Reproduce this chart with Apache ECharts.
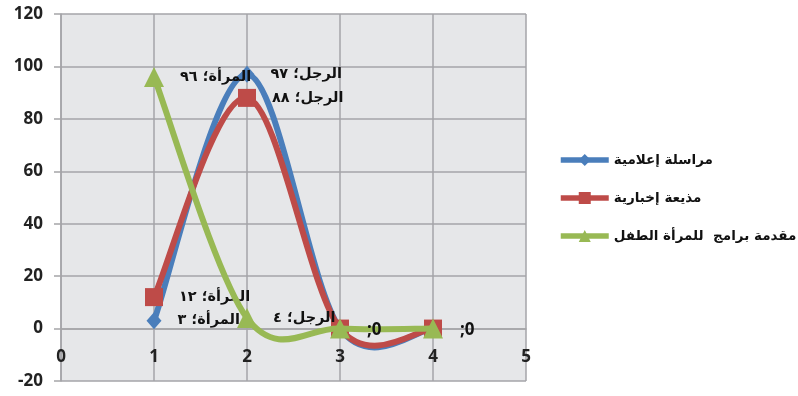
<!DOCTYPE html>
<html>
<head>
<meta charset="utf-8">
<script src="https://cdn.jsdelivr.net/npm/echarts@6/dist/echarts.min.js"></script>
<style>
  html, body { margin: 0; padding: 0; background: #ffffff; }
  #chart { width: 798px; height: 396px; }
</style>
</head>
<body>
<div id="chart"></div>
<script>
// Point positions along the x axis and the group name shown in each data label
const xValues = [1, 2, 3, 4];
const pointNames = ['المرأة', 'الرجل', '', ''];

// Series names and their values
const seriesNames = ['مراسلة إعلامية', 'مذيعة إخبارية', 'مقدمة برامج  للمرأة الطفل'];
const reporterValues = [3, 97, 0, 0];
const announcerValues = [12, 88, 0, 0];
const presenterValues = [96, 4, 0, 0];

// Axis ranges
const yTicks = [-20, 0, 20, 40, 60, 80, 100, 120];
const xTicks = [0, 1, 2, 3, 4, 5];

const colors = ['#4A7EBB', '#BE4B48', '#98B954'];
const symbols = ['diamond', 'rect', 'triangle'];
const symbolSizes = [[15, 17], 18, 20];
const LINE_WIDTH = 6;

const arabicDigits = '٠١٢٣٤٥٦٧٨٩';
function toArabicDigits(n) {
  return String(n).replace(/[0-9]/g, d => arabicDigits[+d]);
}

// Which points carry a label, per series (the shared zero points are labelled once)
const labelMask = [
  [true, true, false, false],
  [true, true, false, false],
  [true, true, true, true]
];

const allValues = [reporterValues, announcerValues, presenterValues];

function buildData(values, si) {
  return xValues.map((x, i) => {
    const label = { show: labelMask[si][i] };
    if (!pointNames[i]) {
      // unnamed points get a plain Latin label
      label.fontFamily = 'Open Sans';
      label.fontSize = 17;
      label.distance = 17;
      label.offset = [0, 2];
    }
    return { value: [x, values[i]], name: pointNames[i], label: label };
  });
}

// Smoothed connector: each item draws the cubic segment to the next point,
// with control points taken from the neighbouring points (1/6 of the chord).
function makeCurveRenderer(color) {
  return function (params, api) {
    const i = params.dataIndexInside;
    const n = params.dataInsideLength;
    if (i >= n - 1) return null;
    const pt = k => {
      const kk = Math.max(0, Math.min(n - 1, k));
      return api.coord([api.value(0, kk), api.value(1, kk)]);
    };
    const p0 = pt(i - 1), p1 = pt(i), p2 = pt(i + 1), p3 = pt(i + 2);
    return {
      type: 'bezierCurve',
      shape: {
        x1: p1[0], y1: p1[1],
        x2: p2[0], y2: p2[1],
        cpx1: p1[0] + (p2[0] - p0[0]) / 6,
        cpy1: p1[1] + (p2[1] - p0[1]) / 6,
        cpx2: p2[0] - (p3[0] - p1[0]) / 6,
        cpy2: p2[1] - (p3[1] - p1[1]) / 6
      },
      style: {
        fill: null,
        stroke: color,
        lineWidth: LINE_WIDTH,
        lineCap: 'round',
        lineJoin: 'round'
      }
    };
  };
}

const LRM = '\u200E';

const chart = echarts.init(document.getElementById('chart'), null, { renderer: 'canvas' });

const series = [];
allValues.forEach((vals, si) => {
  series.push({
    type: 'custom',
    name: 'curve-' + si,
    data: xValues.map((x, i) => [x, vals[i]]),
    renderItem: makeCurveRenderer(colors[si]),
    z: 2 + si * 2,
    silent: true,
    clip: false
  });
  series.push({
    name: seriesNames[si],
    type: 'line',
    data: buildData(vals, si),
    symbol: symbols[si],
    symbolSize: symbolSizes[si],
    showAllSymbol: true,
    z: 3 + si * 2,
    lineStyle: { color: colors[si], width: LINE_WIDTH, opacity: 0 },
    itemStyle: { color: colors[si] },
    label: {
      position: 'right',
      distance: 16,
      color: '#111',
      fontFamily: 'DejaVu Sans',
      fontWeight: 'bold',
      fontSize: 14.5,
      formatter: p => p.data.name
        ? p.data.name + '؛ ' + toArabicDigits(p.value[1])
        : LRM + ';' + LRM + p.value[1]
    },
    emphasis: { disabled: true }
  });
});

chart.setOption({
  animation: false,
  backgroundColor: '#ffffff',
  grid: {
    left: 61, right: 272, top: 14, bottom: 15,
    show: true, backgroundColor: '#e6e7e9', borderWidth: 0
  },
  legend: {
    orient: 'vertical',
    left: 553,
    top: 148,
    itemWidth: 48,
    itemHeight: 15,
    itemGap: 24,
    data: seriesNames,
    lineStyle: { width: 5.5, opacity: 1 },
    textStyle: {
      color: '#111',
      fontFamily: 'DejaVu Sans',
      fontWeight: 'bold',
      fontSize: 13.5
    }
  },
  xAxis: {
    type: 'value',
    min: xTicks[0],
    max: xTicks[xTicks.length - 1],
    interval: 1,
    offset: -52.43,
    axisLine: { onZero: false, lineStyle: { color: '#a5a5a8', width: 1.5 } },
    axisTick: { show: false },
    axisLabel: {
      margin: 20,
      color: '#222',
      fontFamily: 'Open Sans',
      fontWeight: 'bold',
      fontSize: 17
    },
    splitLine: { show: true, lineStyle: { color: '#a5a5a8', width: 1.5 } }
  },
  yAxis: {
    type: 'value',
    min: yTicks[0],
    max: yTicks[yTicks.length - 1],
    interval: 20,
    axisLine: { show: true, onZero: false, lineStyle: { color: '#a5a5a8', width: 1.5 } },
    axisTick: { show: true, length: 7, lineStyle: { color: '#a5a5a8', width: 1.5 } },
    axisLabel: {
      margin: 18,
      color: '#222',
      fontFamily: 'Open Sans',
      fontWeight: 'bold',
      fontSize: 17
    },
    splitLine: { show: true, lineStyle: { color: '#a5a5a8', width: 1.5 } }
  },
  series: series
});
</script>
</body>
</html>
